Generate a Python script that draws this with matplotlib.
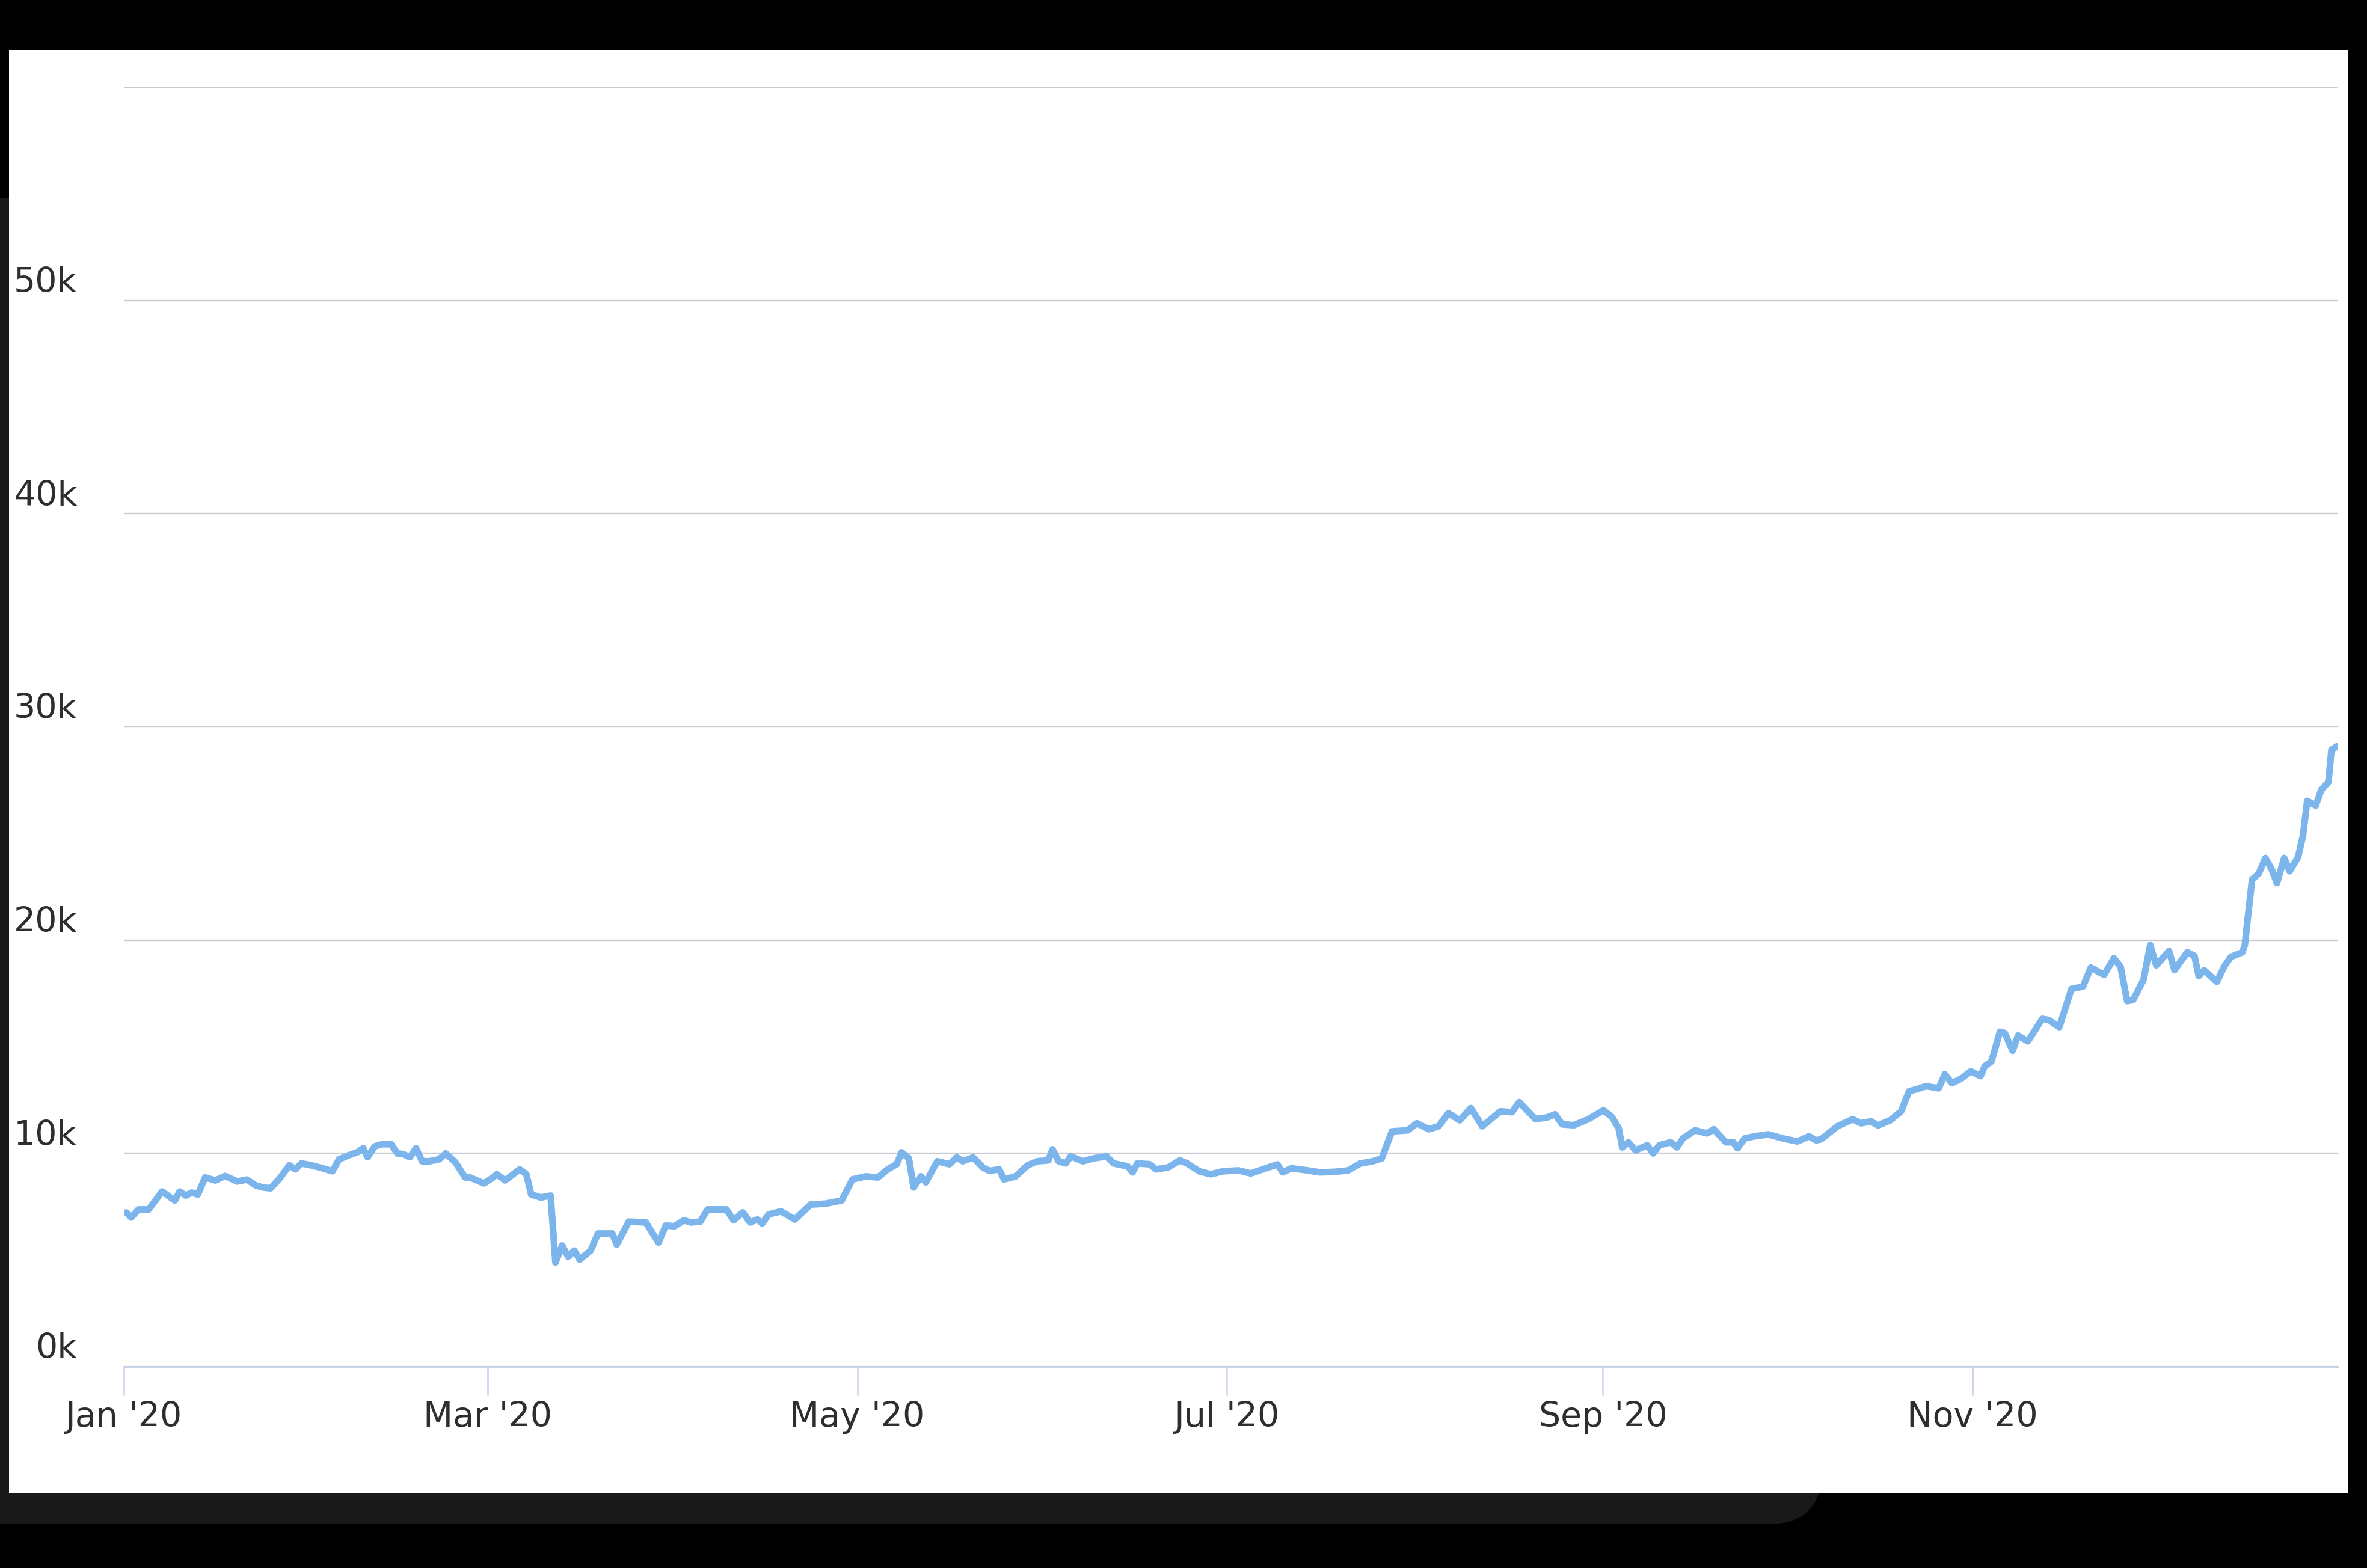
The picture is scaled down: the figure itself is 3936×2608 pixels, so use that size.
import numpy as np
import pandas as pd
import matplotlib
matplotlib.use('Agg')
import matplotlib.pyplot as plt
import matplotlib.dates as mdates
from matplotlib.patches import FancyBboxPatch, Rectangle
from matplotlib.ticker import FixedLocator, NullFormatter

# Price: day offset from 1 Jan 2020 and value in USD
day_offset = [
    0.4, 1.2, 2.4, 4.1, 6.3, 8.4, 9.2, 10.2, 11.2, 12.2, 13.4, 15.1, 16.7, 18.7, 20.3,
    21.8, 23.0, 24.2, 25.7, 27.3, 28.3, 29.3, 30.9, 32.8, 34.4, 35.5, 37.1, 38.5, 39.5,
    40.2, 41.4, 42.6, 44.1, 45.1, 46.1, 47.2, 48.2, 49.2, 50.4, 52.0, 53.1, 54.7, 56.3,
    57.1, 59.4,
    60.9, 61.5, 62.9, 65.3, 66.4, 67.2, 68.8, 70.4, 71.2, 72.3, 73.3, 74.3, 75.2, 77.0,
    78.2, 80.6, 81.3, 83.3, 86.1, 88.2, 89.4, 90.8, 92.4, 93.5, 95.1, 96.3, 99.4, 100.6,
    102.1, 103.3, 104.5, 105.3, 106.4, 108.4, 110.7, 113.3, 115.8, 118.4, 120.2,
    122.4, 124.4, 126.0, 127.5, 128.3, 129.5, 130.3, 131.5, 132.3, 134.2, 136.2, 137.4,
    138.4, 140.1, 141.7, 142.8, 144.4, 145.2, 147.1, 149.1, 150.7, 152.5, 153.2, 154.2,
    155.4, 156.2, 158.2, 160.1, 162.1, 163.3, 165.6, 166.4, 167.2, 169.2, 170.3, 172.3,
    174.2, 175.4, 177.4, 179.3, 181.3,
    183.9, 185.9, 187.9, 190.3, 191.2, 192.6, 195.3, 197.3, 199.6, 202.0, 204.0, 205.9,
    207.5, 209.2, 211.8, 213.3, 215.3, 216.9, 218.5, 220.4, 222.2, 224.1, 227.1, 229.0,
    230.2, 232.9, 234.9, 236.1, 237.3, 239.2, 241.6, 244.1,
    245.5, 246.6, 247.2, 248.2, 249.4, 251.3, 252.3, 253.3, 255.2, 256.2, 257.2, 259.2,
    261.2, 262.3, 264.3, 265.5, 266.2, 267.4, 269.0, 271.3, 273.7, 276.1, 278.0, 279.2,
    280.0, 282.7, 285.2, 286.6, 288.2, 289.4, 291.4, 293.2, 294.5, 295.7, 297.3, 299.4,
    300.4, 301.6, 303.2, 304.7, 306.3, 307.0,
    308.1, 309.5, 310.3, 311.6, 312.5, 314.1, 316.5, 317.6, 319.3, 321.3, 323.2, 324.5,
    326.7, 328.3, 329.4, 330.5, 331.5, 333.2, 334.3, 335.3, 337.4, 338.3, 340.4, 341.6,
    342.3, 343.2, 345.3, 346.5, 347.6, 349.5, 349.9, 351.1, 352.2, 353.3, 354.3, 355.2,
    356.4, 357.3, 358.7, 359.5, 360.2, 361.6, 362.5, 363.7, 364.2, 365.2,
]
price_usd = [
    7230, 6990, 7370, 7370, 8210, 7790, 8210, 8020, 8160, 8070, 8870, 8730, 8940, 8680, 8770,
    8490, 8400, 8360, 8820, 9440, 9250, 9530, 9440, 9300, 9160, 9720, 9910, 10050, 10240,
    9820, 10330, 10430, 10430, 10000, 9960, 9820, 10240, 9630, 9630, 9720, 10000, 9580, 8870,
    8870, 8590,
    8870, 9020, 8730, 9250, 9020, 8070, 7930, 8020, 4880, 5680, 5160, 5440, 5020, 5440,
    6240, 6240, 5720, 6800, 6760, 5820, 6620, 6580, 6860, 6760, 6800, 7370, 7370, 6860,
    7230, 6760, 6900, 6710, 7140, 7280, 6900, 7600, 7640, 7790, 8780,
    8920, 8870, 9250, 9490, 10050, 9770, 8400, 8920, 8640, 9630, 9490, 9810,
    9630, 9810, 9340, 9180, 9250, 8780, 8920, 9440, 9630, 9670, 10190, 9630,
    9530, 9860, 9630, 9770, 9860, 9530, 9390, 9110, 9530, 9490, 9250, 9340,
    9670, 9530, 9160, 9020, 9160,
    9200, 9060, 9250, 9480, 9110, 9300, 9200, 9110, 9130, 9200, 9530, 9620,
    9760, 11030, 11080, 11410, 11130, 11270, 11880, 11550, 12120, 11270, 11970, 11930,
    12400, 11600, 11690, 11830, 11360, 11320, 11600, 12020,
    11700, 11180, 10280, 10520, 10140, 10380, 10000, 10380, 10520, 10280, 10700, 11080,
    10940, 11130, 10520, 10520, 10240, 10700, 10800, 10890, 10700, 10560, 10800, 10610,
    10660, 11270, 11600, 11410, 11500, 11310, 11550, 11970, 12910, 13000, 13150, 13050,
    13710, 13290, 13520, 13850, 13620, 14090,
    14310, 15700, 15640, 14810, 15530, 15250, 16310, 16250, 15920, 17710, 17820, 18710,
    18370, 19150, 18760, 17140, 17200, 18150, 19770, 18820, 19490, 18590, 19430, 19260,
    18310, 18590, 18040, 18760, 19210, 19430, 19770, 22840, 23120, 23850, 23340, 22670,
    23850, 23230, 23900, 24910, 26530, 26310, 27030, 27420, 28930, 29100,
]

y_ticks = [0, 10000, 20000, 30000, 40000, 50000, 60000]
y_labels = ['0k', '10k', '20k', '30k', '40k', '50k', '']

start = pd.Timestamp('2020-01-01')
dates = start + pd.to_timedelta(day_offset, unit='D')

W, H = 3936, 2608
fig = plt.figure(figsize=(W / 100, H / 100), dpi=100, facecolor='black')

# screenshot frame: dark bezel and the white card, in pixel coords
bg = fig.add_axes([0, 0, 1, 1])
bg.set_xlim(0, W)
bg.set_ylim(H, 0)
bg.axis('off')
bg.add_patch(FancyBboxPatch((-300, 330), 3330, 2205,
                            boxstyle='round,pad=0,rounding_size=90',
                            fc='#191919', ec='none'))
bg.add_patch(Rectangle((15, 83), 3890, 2401, fc='white', ec='none'))

# plot area
ax = fig.add_axes([206 / W, (H - 2273) / H, (3888 - 206) / W, (2273 - 145) / H])
ax.set_facecolor('white')

ax.plot(dates, price_usd, color='#7cb5ec', lw=8,
        solid_joinstyle='round', solid_capstyle='round', zorder=3)

ax.set_ylim(0, 60000)
ax.set_xlim(start, start + pd.Timedelta(days=365.3))

# horizontal grid
ax.yaxis.set_major_locator(FixedLocator(y_ticks))
ax.yaxis.set_major_formatter(NullFormatter())
ax.grid(axis='y', color='#cbccd3', lw=1.7)
ax.set_axisbelow(True)
ax.tick_params(axis='y', length=0)

for s in ['top', 'left', 'right']:
    ax.spines[s].set_visible(False)
ax.spines['bottom'].set_color('#c6d3e6')
ax.spines['bottom'].set_linewidth(2)
ax.spines['bottom'].set_zorder(4)

# y labels sit above their grid lines
for v, lab in zip(y_ticks, y_labels):
    ax.annotate(lab, xy=(0, v), xycoords=('axes fraction', 'data'),
                xytext=(-56, 21), textcoords='offset points',
                ha='right', va='center', fontsize=41, color='#2e2e2e',
                annotation_clip=False)

# x axis: every other month
ax.xaxis.set_major_locator(mdates.MonthLocator(bymonth=[1, 3, 5, 7, 9, 11]))
ax.xaxis.set_major_formatter(mdates.DateFormatter("%b '%y"))
ax.tick_params(axis='x', length=34.5, width=1.8, color='#c6d3e6',
               pad=6.5, labelsize=41, labelcolor='#2e2e2e')

fig.savefig('out.png', dpi=100, facecolor='black')
